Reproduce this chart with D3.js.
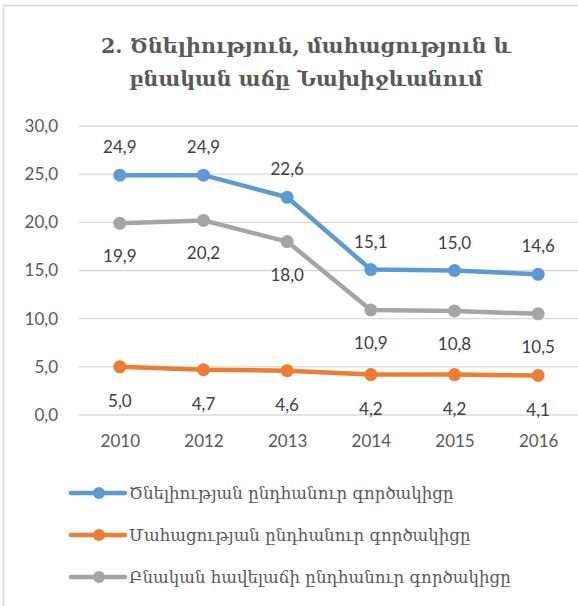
<!DOCTYPE html>
<meta charset="utf-8">
<style>
  body { margin: 0; background: #fff; }
  svg { font-family: "Lato", "DejaVu Sans", sans-serif; }
</style>
<svg width="578" height="606"></svg>
<script src="https://d3js.org/d3.v7.min.js"></script>
<script>

var years = ["2010", "2012", "2013", "2014", "2015", "2016"];
var birthRate = [24.9, 24.9, 22.6, 15.1, 15.0, 14.6];
var deathRate = [5.0, 4.7, 4.6, 4.2, 4.2, 4.1];
var naturalGrowth = [19.9, 20.2, 18.0, 10.9, 10.8, 10.5];
var yTicks = [0, 5, 10, 15, 20, 25, 30];
var titleLines = ["2. Ծնելիություն, մահացություն և", "բնական աճը Նախիջևանում"];

var series = [
  { name: "Ծնելիության ընդհանուր գործակիցը", values: birthRate, color: "#5b9bd5", labelDy: -22 },
  { name: "Մահացության ընդհանուր գործակիցը", values: deathRate, color: "#ed7d31", labelDy: 40 },
  { name: "Բնական հավելաճի ընդհանուր գործակիցը", values: naturalGrowth, color: "#a5a5a5", labelDy: 39 }
];

var svg = d3.select("svg");
var fmt = function(v) { return d3.format(".1f")(v).replace(".", ","); };

// chart frame (cut by the window on the right / bottom)
svg.append("rect")
  .attr("x", 3.5).attr("y", 5.5)
  .attr("width", 640).attr("height", 640)
  .attr("fill", "none")
  .attr("stroke", "#d9d9d9")
  .attr("stroke-width", 1.5);

// title
svg.append("text")
  .attr("x", 306).attr("y", 53)
  .attr("text-anchor", "middle")
  .attr("fill", "#595959")
  .style("font-family", "'DejaVu Serif', serif")
  .style("font-weight", "bold")
  .style("font-size", "20.6px")
  .selectAll("tspan")
  .data(titleLines).enter()
  .append("tspan")
  .attr("x", 306)
  .attr("dy", function(d, i) { return i ? 33 : 0; })
  .text(function(d) { return d; });

var x = d3.scalePoint().domain(years).range([78, 580]).padding(0.5);
var y = d3.scaleLinear().domain([0, 30]).range([415, 126]);

// gridlines
svg.append("g")
  .selectAll("line")
  .data(yTicks).enter()
  .append("line")
  .attr("x1", 79).attr("x2", 578)
  .attr("y1", function(d) { return y(d); })
  .attr("y2", function(d) { return y(d); })
  .attr("stroke", "#d9d9d9")
  .attr("stroke-width", 1.3);

// y axis labels
var yAxis = svg.append("g")
  .attr("transform", "translate(58,0)")
  .call(d3.axisLeft(y).tickValues(yTicks).tickSize(0).tickPadding(0).tickFormat(fmt));
yAxis.select(".domain").remove();
yAxis.selectAll("text")
  .attr("fill", "#595959")
  .style("font-family", "Lato, sans-serif")
  .style("font-size", "17px");

// x axis labels
var xAxis = svg.append("g")
  .attr("transform", "translate(0,432)")
  .call(d3.axisBottom(x).tickSize(0).tickPadding(0));
xAxis.select(".domain").remove();
xAxis.selectAll("text")
  .attr("fill", "#595959")
  .attr("dy", "0.9em")
  .style("font-family", "Lato, sans-serif")
  .style("font-size", "17px");

var line = d3.line()
  .x(function(d, i) { return x(years[i]); })
  .y(function(d) { return y(d); });

var g = svg.selectAll(".series")
  .data(series).enter()
  .append("g")
  .attr("class", "series");

g.append("path")
  .attr("d", function(d) { return line(d.values); })
  .attr("fill", "none")
  .attr("stroke", function(d) { return d.color; })
  .attr("stroke-width", 4.5)
  .attr("stroke-linejoin", "round");

g.selectAll("circle")
  .data(function(d) { return d.values.map(function(v, i) { return { v: v, i: i, s: d }; }); })
  .enter().append("circle")
  .attr("cx", function(d) { return x(years[d.i]); })
  .attr("cy", function(d) { return y(d.v); })
  .attr("r", 6.5)
  .attr("fill", function(d) { return d.s.color; });

g.selectAll(".lbl")
  .data(function(d) { return d.values.map(function(v, i) { return { v: v, i: i, s: d }; }); })
  .enter().append("text")
  .attr("class", "lbl")
  .attr("x", function(d) { return x(years[d.i]); })
  .attr("y", function(d) { return y(d.v) + d.s.labelDy; })
  .attr("text-anchor", "middle")
  .attr("fill", "#404040")
  .style("font-family", "Lato, sans-serif")
  .style("font-size", "17px")
  .text(function(d) { return fmt(d.v); });

// legend
var legend = svg.selectAll(".legend")
  .data(series).enter()
  .append("g")
  .attr("class", "legend")
  .attr("transform", function(d, i) { return "translate(0," + (493 + 42 * i) + ")"; });

legend.append("line")
  .attr("x1", 71).attr("x2", 125)
  .attr("stroke", function(d) { return d.color; })
  .attr("stroke-width", 4.5)
  .attr("stroke-linecap", "round");

legend.append("circle")
  .attr("cx", 99).attr("r", 6)
  .attr("fill", function(d) { return d.color; });

legend.append("text")
  .attr("x", 129).attr("dy", "0.35em")
  .attr("fill", "#595959")
  .style("font-family", "'DejaVu Serif', serif")
  .style("font-size", "16.6px")
  .text(function(d) { return d.name; });

</script>
